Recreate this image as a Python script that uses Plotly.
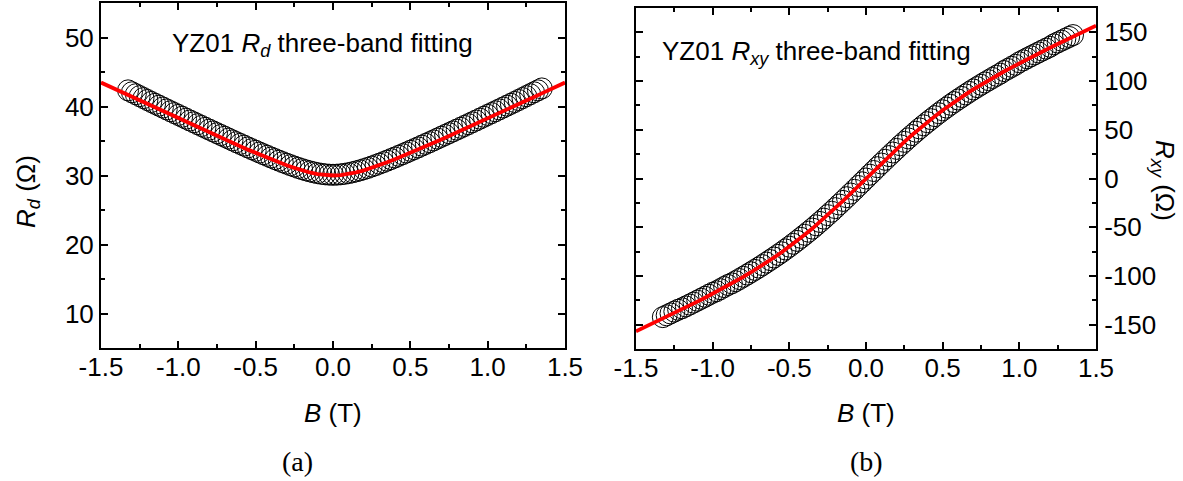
import plotly.graph_objects as go

# Measured field sweep (T)
B_data = [
    -1.325, -1.300, -1.275, -1.250, -1.225, -1.200, -1.175, -1.150, -1.125, -1.100,
    -1.075, -1.050, -1.025, -1.000, -0.975, -0.950, -0.925, -0.900, -0.875, -0.850,
    -0.825, -0.800, -0.775, -0.750, -0.725, -0.700, -0.675, -0.650, -0.625, -0.600,
    -0.575, -0.550, -0.525, -0.500, -0.475, -0.450, -0.425, -0.400, -0.375, -0.350,
    -0.325, -0.300, -0.275, -0.250, -0.225, -0.200, -0.175, -0.150, -0.125, -0.100,
    -0.075, -0.050, -0.025, 0.000, 0.025, 0.050, 0.075, 0.100, 0.125, 0.150,
    0.175, 0.200, 0.225, 0.250, 0.275, 0.300, 0.325, 0.350, 0.375, 0.400,
    0.425, 0.450, 0.475, 0.500, 0.525, 0.550, 0.575, 0.600, 0.625, 0.650,
    0.675, 0.700, 0.725, 0.750, 0.775, 0.800, 0.825, 0.850, 0.875, 0.900,
    0.925, 0.950, 0.975, 1.000, 1.025, 1.050, 1.075, 1.100, 1.125, 1.150,
    1.175, 1.200, 1.225, 1.250, 1.275, 1.300, 1.325, 1.350,
]

# Measured longitudinal resistance R_d (Ohm)
Rd_data = [
    42.34, 42.06, 41.78, 41.50, 41.22, 40.94, 40.66, 40.39, 40.12, 39.85,
    39.58, 39.31, 39.04, 38.78, 38.51, 38.24, 37.97, 37.71, 37.44, 37.18,
    36.91, 36.65, 36.39, 36.13, 35.87, 35.61, 35.35, 35.09, 34.83, 34.58,
    34.33, 34.07, 33.82, 33.58, 33.33, 33.09, 32.85, 32.61, 32.38, 32.15,
    31.93, 31.71, 31.50, 31.30, 31.10, 30.92, 30.75, 30.60, 30.46, 30.34,
    30.24, 30.17, 30.12, 30.10, 30.12, 30.17, 30.24, 30.34, 30.46, 30.60,
    30.75, 30.92, 31.10, 31.30, 31.50, 31.71, 31.93, 32.15, 32.38, 32.61,
    32.85, 33.09, 33.33, 33.58, 33.82, 34.07, 34.33, 34.58, 34.83, 35.09,
    35.35, 35.61, 35.87, 36.13, 36.39, 36.65, 36.91, 37.18, 37.44, 37.71,
    37.97, 38.24, 38.51, 38.78, 39.04, 39.31, 39.58, 39.85, 40.12, 40.39,
    40.66, 40.94, 41.22, 41.50, 41.78, 42.06, 42.34, 42.62,
]

# Measured Hall resistance R_xy (Ohm)
Rxy_data = [
    -142.3, -140.4, -138.5, -136.6, -134.7, -133.2, -131.3, -129.4, -127.4, -125.4,
    -123.4, -121.4, -119.3, -117.3, -115.7, -113.6, -111.4, -109.3, -107.6, -105.4,
    -103.2, -100.9, -98.6, -96.2, -93.8, -91.4, -88.9, -86.3, -83.7, -81.1,
    -78.4, -75.7, -72.8, -70.0, -67.0, -64.0, -60.9, -57.8, -54.6, -51.4,
    -48.0, -44.6, -41.2, -37.6, -34.1, -30.4, -26.7, -23.0, -19.2, -15.4,
    -11.6, -7.7, -3.9, 0.0, 3.9, 7.7, 11.6, 15.4, 19.2, 23.0,
    26.7, 30.4, 34.1, 37.6, 41.2, 44.6, 48.0, 51.4, 54.6, 57.8,
    60.9, 64.0, 67.0, 70.0, 72.8, 75.7, 78.4, 81.1, 83.7, 86.3,
    88.9, 91.4, 93.8, 96.2, 98.6, 100.9, 103.2, 105.4, 107.6, 110.3,
    112.4, 114.6, 116.7, 119.3, 121.3, 123.4, 125.4, 127.4, 129.4, 131.4,
    133.3, 135.2, 137.7, 139.6, 141.5, 143.4, 145.3, 147.2,
]

# Three-band fit curves (T, Ohm)
B_fit = [
    -1.50, -1.45, -1.40, -1.35, -1.30, -1.25, -1.20, -1.15, -1.10, -1.05,
    -1.00, -0.95, -0.90, -0.85, -0.80, -0.75, -0.70, -0.65, -0.60, -0.55,
    -0.50, -0.45, -0.40, -0.35, -0.30, -0.25, -0.20, -0.15, -0.10, -0.05,
    0.00, 0.05, 0.10, 0.15, 0.20, 0.25, 0.30, 0.35, 0.40, 0.45,
    0.50, 0.55, 0.60, 0.65, 0.70, 0.75, 0.80, 0.85, 0.90, 0.95,
    1.00, 1.05, 1.10, 1.15, 1.20, 1.25, 1.30, 1.35, 1.40, 1.45, 1.50,
]
Rd_fit = [
    43.47, 42.95, 42.42, 41.90, 41.38, 40.86, 40.34, 39.83, 39.31, 38.79,
    38.28, 37.76, 37.25, 36.74, 36.23, 35.73, 35.23, 34.73, 34.24, 33.75,
    33.28, 32.81, 32.35, 31.91, 31.49, 31.10, 30.74, 30.44, 30.20, 30.05,
    30.00, 30.05, 30.20, 30.44, 30.74, 31.10, 31.49, 31.91, 32.35, 32.81,
    33.28, 33.75, 34.24, 34.73, 35.23, 35.73, 36.23, 36.74, 37.25, 37.76,
    38.28, 38.79, 39.31, 39.83, 40.34, 40.86, 41.38, 41.90, 42.42, 42.95, 43.47,
]
Rxy_fit = [
    -156.9, -153.2, -149.5, -145.7, -141.9, -138.1, -134.2, -130.4, -126.4, -122.4,
    -118.3, -114.1, -109.8, -105.4, -100.9, -96.2, -91.4, -86.3, -81.1, -75.7,
    -70.0, -64.0, -57.8, -51.4, -44.6, -37.6, -30.4, -23.0, -15.4, -7.7,
    0.0, 7.7, 15.4, 23.0, 30.4, 37.6, 44.6, 51.4, 57.8, 64.0,
    70.0, 75.7, 81.1, 86.3, 91.4, 96.2, 100.9, 105.4, 109.8, 114.1,
    118.3, 122.4, 126.4, 130.4, 134.2, 138.1, 141.9, 145.7, 149.5, 153.2, 156.9,
]

X_TICKS = [-1.5, -1.0, -0.5, 0.0, 0.5, 1.0, 1.5]
X_TICKTEXT = ["-1.5", "-1.0", "-0.5", "0.0", "0.5", "1.0", "1.5"]
RD_TICKS = [10, 20, 30, 40, 50]
RXY_TICKS = [-150, -100, -50, 0, 50, 100, 150]
RXY_TICKTEXT = ["-150", "-100", "-50", "0", "50", "100", "150"]

W, H = 1183, 481
SANS = "Liberation Sans, Arial, sans-serif"
SERIF = "Liberation Serif, Times New Roman, serif"
FS = 26

marker_style = dict(symbol="circle-open", size=21, color="black",
                    line=dict(color="black", width=1.0))
fit_style = dict(color="#ff0000", width=3.8)

fig = go.Figure()
fig.add_trace(go.Scatter(x=B_data, y=Rd_data, mode="markers", marker=marker_style,
                         xaxis="x", yaxis="y", showlegend=False))
fig.add_trace(go.Scatter(x=B_fit, y=Rd_fit, mode="lines", line=fit_style,
                         xaxis="x", yaxis="y", showlegend=False))
fig.add_trace(go.Scatter(x=B_data, y=Rxy_data, mode="markers", marker=marker_style,
                         xaxis="x2", yaxis="y2", showlegend=False))
fig.add_trace(go.Scatter(x=B_fit, y=Rxy_fit, mode="lines", line=fit_style,
                         xaxis="x2", yaxis="y2", showlegend=False))


def frame(**kw):
    base = dict(showline=True, linecolor="black", linewidth=2, mirror="ticks",
                ticks="inside", ticklen=7, tickwidth=2, tickcolor="black",
                showgrid=False, zeroline=False, automargin=False,
                tickfont=dict(family=SANS, size=FS, color="black"))
    base.update(kw)
    return base


def minor(step):
    return dict(ticks="inside", ticklen=4, tickwidth=2, dtick=step, tick0=0,
                tickcolor="black")


def px_x(a, b):
    return [a / W, b / W]


def px_y(top, bottom):
    return [(H - bottom) / H, (H - top) / H]


fig.update_layout(
    width=W, height=H,
    margin=dict(l=0, r=0, t=0, b=0),
    paper_bgcolor="white", plot_bgcolor="white",
    xaxis=frame(domain=px_x(101, 565), range=[-1.5, 1.5], anchor="y",
                tickvals=X_TICKS, ticktext=X_TICKTEXT, ticklabelstandoff=-5,
                minor=minor(0.25)),
    yaxis=frame(domain=px_y(3, 348), range=[5, 55], anchor="x",
                tickvals=RD_TICKS, ticklabelstandoff=0, minor=minor(5)),
    xaxis2=frame(domain=px_x(636, 1096), range=[-1.5, 1.5], anchor="y2",
                 tickvals=X_TICKS, ticktext=X_TICKTEXT, ticklabelstandoff=-5,
                 minor=minor(0.25)),
    yaxis2=frame(domain=px_y(8, 349), range=[-175, 175], anchor="x2", side="right",
                 tickvals=RXY_TICKS, ticktext=RXY_TICKTEXT, ticklabelstandoff=1,
                 minor=minor(25)),
)


def note(text, x, y, size=FS, family=SANS, angle=0, xanchor="center", yanchor="middle"):
    fig.add_annotation(text=text, x=x / W, y=(H - y) / H, xref="paper", yref="paper",
                       showarrow=False, textangle=angle, xanchor=xanchor, yanchor=yanchor,
                       font=dict(family=family, size=size, color="black"))


# Panel titles
note("YZ01 <i>R</i><sub><i>d</i></sub> three-band fitting", 170, 45, xanchor="left")
note("YZ01 <i>R</i><sub><i>xy</i></sub> three-band fitting", 660, 52, xanchor="left")

# Axis titles
note("<i>R</i><sub><i>d</i></sub> (\u03a9)", 27, 192, angle=-90)
note("<i>R</i><sub><i>xy</i></sub> (\u03a9)", 1164, 180, angle=90)
note("<i>B</i> (T)", 333, 413)
note("<i>B</i> (T)", 866, 413)

# Sub-figure captions
note("(a)", 297, 461, size=28, family=SERIF)
note("(b)", 866, 461, size=28, family=SERIF)

fig.write_html("out.html")
